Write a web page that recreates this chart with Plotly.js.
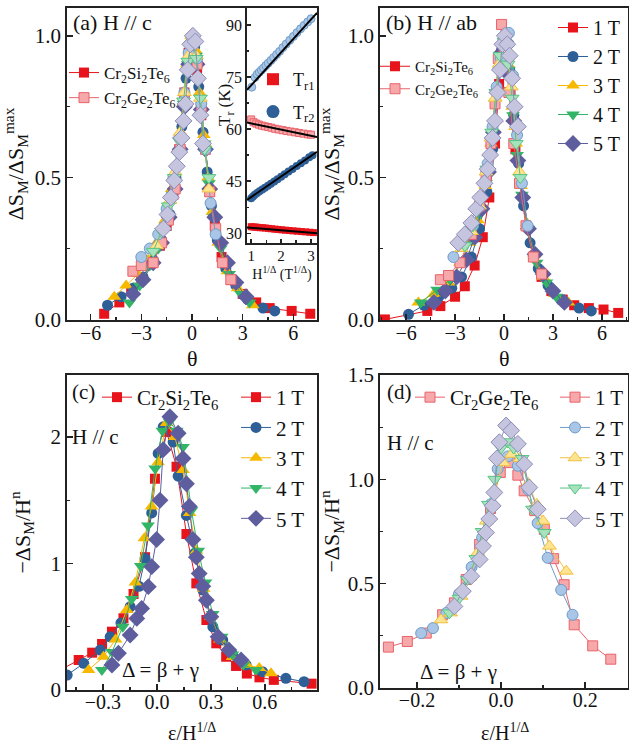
<!DOCTYPE html>
<html><head><meta charset="utf-8">
<script src="https://cdn.plot.ly/plotly-3.0.1.min.js"></script>
<style>html,body{margin:0;padding:0;background:#fff}#plot{width:629px;height:745px}</style>
</head><body><div id="plot"></div>
<script>
// ---------- data ----------
const fieldLabels = ['1 T','2 T','3 T','4 T','5 T'];

// Panel (a) H // c : theta vs dS/dSmax, Cr2Si2Te6
const aSiX = [
 [-5.2,-4.3,-3.6,-3.0,-2.4,-1.9,-1.5,-1.1,-0.75,-0.45,-0.2,0.05,0.3,0.55,0.8,1.05,1.35,1.75,2.3,3.0,3.8,4.6,5.9,7.0],
 [-5.0,-4.2,-3.5,-2.9,-2.3,-1.8,-1.3,-0.95,-0.6,-0.35,-0.1,0.15,0.4,0.65,0.9,1.15,1.5,2.0,2.6,3.3,4.2,4.9],
 [-4.6,-3.9,-3.2,-2.6,-2.1,-1.6,-1.2,-0.85,-0.55,-0.3,-0.05,0.2,0.45,0.7,0.95,1.2,1.55,2.1,2.7,3.6],
 [-3.7,-3.1,-2.5,-2.0,-1.55,-1.15,-0.8,-0.5,-0.25,0.0,0.25,0.5,0.75,1.0,1.3,1.7,2.2,2.9,3.4],
 [-3.5,-2.9,-2.3,-1.8,-1.35,-1.0,-0.7,-0.45,-0.2,0.05,0.3,0.55,0.8,1.05,1.35,1.7,2.1,2.6,3.2]];
const aSiY = [
 [0.02,0.06,0.1,0.14,0.2,0.26,0.33,0.44,0.6,0.8,0.94,0.97,0.88,0.72,0.6,0.45,0.33,0.22,0.14,0.09,0.06,0.04,0.03,0.02],
 [0.05,0.08,0.11,0.15,0.21,0.28,0.37,0.5,0.68,0.85,0.97,0.96,0.82,0.66,0.52,0.4,0.28,0.18,0.12,0.07,0.04,0.03],
 [0.08,0.12,0.16,0.21,0.27,0.35,0.46,0.6,0.76,0.9,1.0,0.95,0.8,0.65,0.5,0.38,0.27,0.17,0.11,0.05],
 [0.06,0.12,0.19,0.25,0.33,0.44,0.58,0.76,0.9,0.99,0.93,0.78,0.62,0.48,0.36,0.25,0.16,0.09,0.06],
 [0.09,0.14,0.2,0.27,0.36,0.46,0.6,0.75,0.9,0.98,0.9,0.74,0.6,0.46,0.36,0.27,0.2,0.13,0.08]];
// Panel (a) Cr2Ge2Te6
const aGeX = [
 [-3.5,-3.0,-2.3,-1.8,-1.4,-1.0,-0.7,-0.45,-0.2,0.05,0.3,0.55,0.8,1.05,1.4,1.8,2.3],
 [-3.0,-2.5,-2.0,-1.5,-1.1,-0.75,-0.45,-0.2,0.05,0.3,0.55,0.8,1.1,1.4],
 [-2.1,-1.7,-1.3,-1.0,-0.7,-0.45,-0.2,0.0,0.25,0.5,0.75,1.0],
 [-2.3,-1.8,-1.4,-1.05,-0.75,-0.5,-0.25,0.0,0.25,0.5,0.75,1.0],
 [-1.7,-1.45,-1.25,-1.05,-0.9,-0.75,-0.62,-0.5,-0.38,-0.25,-0.1,0.05,0.2,0.35,0.5,0.65]];
const aGeY = [
 [0.17,0.19,0.2,0.27,0.35,0.46,0.6,0.77,0.93,0.99,0.9,0.75,0.6,0.45,0.32,0.2,0.14],
 [0.22,0.25,0.3,0.39,0.5,0.64,0.8,0.94,1.0,0.92,0.76,0.6,0.41,0.3],
 [0.26,0.33,0.42,0.52,0.66,0.8,0.93,1.0,0.93,0.78,0.62,0.46],
 [0.24,0.31,0.4,0.5,0.63,0.77,0.91,0.99,0.92,0.78,0.6,0.5],
 [0.32,0.37,0.43,0.49,0.54,0.59,0.64,0.7,0.76,0.88,0.97,1.0,0.98,0.85,0.72,0.62]];

// Panel (b) H // ab
const bSiX = [
 [-7.3,-4.7,-3.9,-3.0,-2.4,-1.8,-1.3,-0.9,-0.55,-0.3,-0.1,0.15,0.4,0.7,1.0,1.35,1.8,2.3,2.9,3.6,4.3,5.2,6.1,7.0],
 [-5.85,-4.9,-4.0,-3.2,-2.6,-2.0,-1.5,-1.05,-0.7,-0.4,-0.15,0.1,0.35,0.6,0.9,1.2,1.6,2.1,2.7,3.5,4.6,5.35],
 [-5.25,-4.3,-3.4,-2.7,-2.1,-1.6,-1.15,-0.8,-0.5,-0.25,0.0,0.25,0.5,0.75,1.05,1.4,1.85,2.4,3.1,3.95],
 [-5.1,-4.1,-3.3,-2.6,-2.0,-1.5,-1.1,-0.75,-0.45,-0.2,0.05,0.3,0.55,0.8,1.1,1.5,2.0,2.6,3.2],
 [-4.3,-3.6,-2.9,-2.3,-1.8,-1.35,-0.95,-0.65,-0.4,-0.15,0.1,0.35,0.6,0.85,1.15,1.5,1.9,2.4,3.0,3.7]];
const bSiY = [
 [0.0,0.03,0.047,0.08,0.117,0.19,0.29,0.43,0.62,0.83,0.95,0.93,0.8,0.6,0.48,0.33,0.22,0.15,0.1,0.07,0.05,0.04,0.035,0.023],
 [0.018,0.05,0.08,0.11,0.15,0.22,0.32,0.45,0.6,0.8,0.95,0.99,0.88,0.72,0.55,0.4,0.27,0.18,0.12,0.07,0.04,0.03],
 [0.06,0.09,0.13,0.2,0.27,0.35,0.47,0.62,0.78,0.92,1.0,0.9,0.75,0.62,0.47,0.34,0.23,0.15,0.09,0.06],
 [0.06,0.105,0.14,0.2,0.28,0.37,0.48,0.63,0.8,0.93,0.99,0.88,0.72,0.58,0.44,0.32,0.2,0.13,0.08],
 [0.06,0.1,0.15,0.21,0.29,0.39,0.52,0.66,0.8,0.94,0.98,0.86,0.7,0.56,0.43,0.32,0.23,0.16,0.1,0.06]];
const bGeX = [
 [-3.9,-3.4,-2.7,-2.0,-1.5,-1.1,-0.8,-0.55,-0.35,-0.15,0.05,0.3,0.6,0.95,1.35,1.8,2.3],
 [-3.1,-2.5,-1.9,-1.4,-1.0,-0.7,-0.45,-0.2,0.05,0.3,0.55,0.8,1.1,1.45],
 [-2.6,-2.0,-1.5,-1.1,-0.8,-0.55,-0.3,-0.05,0.2,0.45,0.7,0.95],
 [-2.4,-1.9,-1.45,-1.05,-0.75,-0.5,-0.25,0.0,0.25,0.5,0.75,1.0],
 [-2.8,-2.4,-2.0,-1.7,-1.45,-1.2,-1.0,-0.85,-0.7,-0.55,-0.4,-0.25,-0.1,0.05,0.2,0.35,0.5,0.65,0.85]];
const bGeY = [
 [0.14,0.155,0.2,0.3,0.4,0.5,0.62,0.76,0.92,1.04,0.95,0.8,0.62,0.48,0.33,0.22,0.16],
 [0.22,0.26,0.33,0.43,0.55,0.68,0.82,0.92,1.0,1.01,0.86,0.65,0.48,0.33],
 [0.25,0.31,0.4,0.52,0.64,0.78,0.9,0.98,0.95,0.82,0.68,0.52],
 [0.26,0.33,0.42,0.53,0.66,0.8,0.93,0.98,0.9,0.78,0.62,0.5],
 [0.27,0.3,0.34,0.39,0.43,0.48,0.53,0.58,0.64,0.7,0.8,0.88,0.97,1.0,0.97,0.93,0.85,0.75,0.68]];

// Panel (c) Cr2Si2Te6, H // c : eps/H^(1/Delta) vs -dS/H^n
const cX = [
 [-0.56,-0.435,-0.36,-0.305,-0.25,-0.186,-0.13,-0.066,-0.011,0.054,0.109,0.164,0.219,0.275,0.33,0.385,0.44,0.5,0.57,0.65,0.86],
 [-0.499,-0.407,-0.315,-0.26,-0.2,-0.149,-0.1,-0.066,-0.029,0.007,0.035,0.09,0.118,0.164,0.21,0.256,0.311,0.366,0.422,0.496,0.587,0.717,0.818],
 [-0.38,-0.297,-0.23,-0.168,-0.12,-0.07,-0.03,0.007,0.054,0.1,0.145,0.182,0.22,0.26,0.3,0.35,0.42,0.5,0.569,0.634],
 [-0.306,-0.25,-0.19,-0.14,-0.09,-0.05,-0.01,0.03,0.07,0.11,0.145,0.192,0.23,0.27,0.31,0.36,0.42,0.48,0.551],
 [-0.25,-0.214,-0.149,-0.112,-0.085,-0.048,-0.029,-0.002,0.017,0.035,0.072,0.118,0.145,0.164,0.18,0.2,0.219,0.235,0.255,0.275,0.3,0.34,0.4,0.468]];
const cY = [
 [0.14,0.237,0.295,0.364,0.461,0.567,0.759,1.05,1.67,2.04,1.765,1.233,0.843,0.553,0.369,0.263,0.19,0.13,0.1,0.08,0.05],
 [0.118,0.211,0.316,0.42,0.53,0.658,0.82,1.04,1.40,1.87,2.08,1.96,1.69,1.38,1.08,0.79,0.5,0.395,0.277,0.198,0.145,0.092,0.066],
 [0.158,0.263,0.4,0.632,0.85,1.2,1.45,1.8,2.11,2.0,1.74,1.40,1.1,0.8,0.58,0.4,0.26,0.2,0.174,0.132],
 [0.158,0.3,0.5,0.72,0.98,1.3,1.75,2.05,2.12,2.05,1.92,1.42,1.1,0.85,0.6,0.42,0.28,0.2,0.158],
 [0.198,0.29,0.435,0.566,0.645,0.817,0.975,1.19,1.5,1.9,2.16,2.03,1.83,1.63,1.45,1.19,1.05,0.92,0.82,0.71,0.58,0.42,0.316,0.237]];

// Panel (d) Cr2Ge2Te6, H // c
const dX = [
 [-0.268,-0.223,-0.178,-0.139,-0.111,-0.083,-0.051,-0.025,-0.002,0.02,0.04,0.055,0.08,0.103,0.125,0.15,0.174,0.218,0.261],
 [-0.19,-0.162,-0.13,-0.1,-0.07,-0.045,-0.025,-0.008,0.016,0.04,0.065,0.087,0.111,0.143,0.17],
 [-0.143,-0.12,-0.095,-0.075,-0.055,-0.035,-0.015,0.005,0.025,0.045,0.065,0.085,0.1,0.115,0.155],
 [-0.123,-0.1,-0.08,-0.06,-0.045,-0.03,-0.015,0.0,0.015,0.03,0.05,0.075,0.103],
 [-0.111,-0.091,-0.071,-0.051,-0.043,-0.036,-0.028,-0.02,-0.016,-0.01,-0.004,0.012,0.024,0.04,0.055,0.067,0.087]];
const dY = [
 [0.196,0.223,0.263,0.351,0.408,0.52,0.688,0.86,1.033,1.08,1.02,0.945,0.85,0.76,0.62,0.495,0.303,0.202,0.138],
 [0.263,0.287,0.36,0.45,0.58,0.72,0.88,1.05,1.11,1.065,0.95,0.79,0.624,0.47,0.351],
 [0.327,0.36,0.44,0.53,0.65,0.8,0.95,1.08,1.12,1.1,0.98,0.88,0.8,0.68,0.56],
 [0.36,0.43,0.52,0.62,0.75,0.88,1.0,1.15,1.18,1.15,1.1,0.857,0.745],
 [0.391,0.464,0.536,0.616,0.68,0.745,0.81,0.873,0.937,1.1,1.178,1.258,1.234,1.17,1.073,0.961,0.857]];

// Inset: T_r (K) vs H^(1/Delta)
const insGeTr2X = [1.02,1.13,1.2,1.27,1.34,1.41,1.49,1.57,1.66,1.75,1.85,1.95,2.06,2.17,2.29,2.41,2.53,2.65,2.77,2.89,3.0];
const insGeTr2Y = [72.1,74.9,75.8,76.4,77.0,77.6,78.3,79.0,79.8,80.6,81.5,82.4,83.5,84.5,85.6,86.7,87.8,88.9,89.9,90.9,91.8];
const insGeTr1X = [1.0,1.08,1.17,1.26,1.36,1.46,1.57,1.68,1.8,1.92,2.05,2.18,2.32,2.46,2.6,2.75,2.9,3.0];
const insGeTr1Y = [62.8,62.0,61.6,61.3,61.0,60.8,60.6,60.4,60.1,59.9,59.7,59.5,59.3,59.1,58.9,58.7,58.5,58.4];
const insSiTr2X = [1.0,1.06,1.12,1.2,1.28,1.37,1.46,1.56,1.66,1.77,1.88,2.0,2.12,2.25,2.38,2.52,2.66,2.8,2.94,3.05];
const insSiTr2Y = [40.1,40.6,41.1,41.6,42.1,42.6,43.1,43.7,44.3,44.9,45.6,46.3,47.0,47.8,48.5,49.4,50.2,51.0,51.9,52.5];
const insSiTr1X = [1.0,1.07,1.14,1.22,1.3,1.39,1.48,1.58,1.68,1.79,1.9,2.02,2.14,2.27,2.4,2.54,2.68,2.82,2.96,3.08];
const insSiTr1Y = [31.9,31.8,31.8,31.7,31.6,31.6,31.5,31.4,31.3,31.2,31.1,31.0,30.9,30.8,30.7,30.6,30.5,30.4,30.3,30.2];
const fitX = [0.86, 3.2];
const fitGeTr2 = [71.3, 93.5];
const fitGeTr1 = [61.9, 57.7];
const fitSiTr2 = [39.6, 53.5];
const fitSiTr1 = [31.7, 30.0];

// ---------- style ----------
const FONT = '"Liberation Serif", "Times New Roman", serif';
const siColor = ['#e8141c','#2f5f97','#f7b800','#33b567','#5e5e9e'];
const geFill  = ['#f7a8aa','#a9c6e6','#ffe48f','#a6e3bd','#c5c5df'];
const geEdge  = ['#e8636a','#6f9bc9','#f0c040','#55c585','#8d8db8'];
const symbols = ['square','circle','triangle-up','triangle-down','diamond'];
const sizes   = [10,11,12,12,13];
const W = 629, H = 745;
const px = v => v / W, py = v => 1 - v / H;

function siTrace(i, x, y, xa, ya, opts) {
  return Object.assign({x, y, xaxis: xa, yaxis: ya, mode: 'lines+markers', name: fieldLabels[i],
    line: {color: siColor[i], width: 1},
    marker: {symbol: symbols[i], size: sizes[i], color: siColor[i], line: {width: 0}},
    showlegend: false}, opts || {});
}
function geTrace(i, x, y, xa, ya, opts) {
  return Object.assign({x, y, xaxis: xa, yaxis: ya, mode: 'lines+markers', name: fieldLabels[i],
    line: {color: geEdge[i], width: 1},
    marker: {symbol: symbols[i], size: sizes[i], color: geFill[i], line: {width: 1, color: geEdge[i]}},
    showlegend: false}, opts || {});
}

const traces = [];
// (a)
for (let i = 0; i < 5; i++) traces.push(siTrace(i, aSiX[i], aSiY[i], 'x', 'y'));
for (let i = 0; i < 5; i++) traces.push(geTrace(i, aGeX[i], aGeY[i], 'x', 'y'));
// (a) legend dummies
const siName = 'Cr<sub>2</sub>Si<sub>2</sub>Te<sub>6</sub>';
const geName = 'Cr<sub>2</sub>Ge<sub>2</sub>Te<sub>6</sub>';
traces.push(siTrace(0, [null], [null], 'x', 'y', {name: siName, showlegend: true, legend: 'legend'}));
traces.push(geTrace(0, [null], [null], 'x', 'y', {name: geName, showlegend: true, legend: 'legend'}));
// (b)
for (let i = 0; i < 5; i++) traces.push(siTrace(i, bSiX[i], bSiY[i], 'x2', 'y2', {showlegend: true, legend: 'legend3'}));
for (let i = 0; i < 5; i++) traces.push(geTrace(i, bGeX[i], bGeY[i], 'x2', 'y2'));
traces.push(siTrace(0, [null], [null], 'x2', 'y2', {name: siName, showlegend: true, legend: 'legend4'}));
traces.push(geTrace(0, [null], [null], 'x2', 'y2', {name: geName, showlegend: true, legend: 'legend4'}));
// (c)
traces.push(siTrace(0, [null], [null], 'x3', 'y3', {name: siName, showlegend: true, legend: 'legend5'}));
for (let i = 0; i < 5; i++) traces.push(siTrace(i, cX[i], cY[i], 'x3', 'y3', {showlegend: true, legend: 'legend6'}));
// (d)
traces.push(geTrace(0, [null], [null], 'x4', 'y4', {name: geName, showlegend: true, legend: 'legend7'}));
for (let i = 0; i < 5; i++) traces.push(geTrace(i, dX[i], dY[i], 'x4', 'y4', {showlegend: true, legend: 'legend8'}));
// inset
const insM = 8;
traces.push({x: insGeTr2X, y: insGeTr2Y, xaxis: 'x5', yaxis: 'y5', mode: 'markers', showlegend: false,
  marker: {symbol: 'circle', size: insM, color: geFill[1], line: {width: 1, color: geEdge[1]}}});
traces.push({x: insGeTr1X, y: insGeTr1Y, xaxis: 'x5', yaxis: 'y5', mode: 'markers', showlegend: false,
  marker: {symbol: 'square', size: insM - 1, color: geFill[0], line: {width: 1, color: geEdge[0]}}});
traces.push({x: insSiTr2X, y: insSiTr2Y, xaxis: 'x5', yaxis: 'y5', mode: 'markers', showlegend: false,
  marker: {symbol: 'circle', size: insM, color: siColor[1]}});
traces.push({x: insSiTr1X, y: insSiTr1Y, xaxis: 'x5', yaxis: 'y5', mode: 'markers', showlegend: false,
  marker: {symbol: 'square', size: insM - 1, color: siColor[0]}});
[fitGeTr2, fitGeTr1, fitSiTr2, fitSiTr1].forEach(f => traces.push({x: fitX, y: f, xaxis: 'x5', yaxis: 'y5',
  mode: 'lines', showlegend: false, line: {color: '#000', width: 2}}));
traces.push({x: [null], y: [null], xaxis: 'x5', yaxis: 'y5', mode: 'markers', name: 'T<sub>r1</sub>', showlegend: true,
  legend: 'legend2', legendgroup: 'g1', marker: {symbol: 'square', size: 12, color: siColor[0]}});
traces.push({x: [null], y: [null], xaxis: 'x5', yaxis: 'y5', mode: 'markers', name: 'T<sub>r2</sub>', showlegend: true,
  legend: 'legend2', legendgroup: 'g2', marker: {symbol: 'circle', size: 13, color: siColor[1]}});

// ---------- axes ----------
function ax(domain, range, dtick, opts) {
  return Object.assign({domain, range, dtick, autorange: false, showgrid: false, zeroline: false,
    showline: true, mirror: true, linecolor: '#222', linewidth: 1.8,
    ticks: 'inside', ticklen: 6, tickwidth: 1.5, tickcolor: '#222',
    tickfont: {family: FONT, size: 21, color: '#111'},
    minor: {ticks: 'inside', ticklen: 3, tickwidth: 1.2, tickcolor: '#222', dtick: dtick / 2}}, opts || {});
}
const tFont = {family: FONT, size: 22, color: '#111'};
const xtFont = {family: FONT, size: 20, color: '#111'};
const xA = [px(67), px(317)], xB = [px(380), px(628)];
const yTop = [py(320), py(8)];
const lg = (x, y, size, extra) => Object.assign({x: px(x), y: py(y), xanchor: 'left', yanchor: 'top',
  bgcolor: 'rgba(0,0,0,0)', font: {family: FONT, size: size, color: '#111'}, itemwidth: 30}, extra || {});
const ann = (text, x, y, size, extra) => Object.assign({text, x: px(x), y: py(y), xref: 'paper', yref: 'paper',
  xanchor: 'left', yanchor: 'middle', showarrow: false, font: {family: FONT, size: size, color: '#111'}}, extra || {});
const layout = {
  width: W, height: H, margin: {l: 0, r: 0, t: 0, b: 0},
  paper_bgcolor: '#fff', plot_bgcolor: 'rgba(0,0,0,0)',
  xaxis: ax(xA, [-7.4, 7.4], 3, {anchor: 'y', ticklabelstandoff: -6, tickfont: xtFont}),
  yaxis: ax(yTop, [-0.002, 1.098], 0.5, {anchor: 'x', tickformat: '.1f', title: {text: 'ΔS<sub>M</sub>/ΔS<sub>M</sub><sup>max</sup>', font: tFont, standoff: 6}}),
  xaxis2: ax(xB, [-7.6, 7.6], 3, {anchor: 'y2', ticklabelstandoff: -6, tickfont: xtFont}),
  yaxis2: ax(yTop, [-0.002, 1.098], 0.5, {anchor: 'x2', tickformat: '.1f', title: {text: 'ΔS<sub>M</sub>/ΔS<sub>M</sub><sup>max</sup>', font: tFont, standoff: 2}}),
  xaxis3: ax(xA, [-0.5, 0.89], 0.3, {anchor: 'y3', tickformat: '.1f', ticklabelstandoff: -7, tickfont: xtFont}),
  yaxis3: ax([py(690), py(375)], [0, 2.49], 1, {anchor: 'x3', title: {text: '−ΔS<sub>M</sub>/H<sup>n</sup>', font: tFont, standoff: 14}}),
  xaxis4: ax(xB, [-0.288, 0.302], 0.2, {anchor: 'y4', tickformat: '.1f', ticklabelstandoff: -7, tickfont: xtFont}),
  yaxis4: ax([py(688), py(375)], [0, 1.5], 0.5, {anchor: 'x4', tickformat: '.1f', title: {text: '−ΔS<sub>M</sub>/H<sup>n</sup>', font: tFont, standoff: 2}}),
  xaxis5: ax([px(247), px(317)], [0.86, 3.2], 1, {anchor: 'y5', tickfont: {family: FONT, size: 15, color: '#111'}, ticklen: 4,
    ticklabelstandoff: -2,
    title: {text: 'H<sup>1/Δ</sup> (T<sup>1/Δ</sup>)', font: {family: FONT, size: 14, color: '#111'}, standoff: 0}}),
  yaxis5: ax([py(243), py(8)], [27.2, 94.9], 15, {anchor: 'x5', tick0: 30, tickfont: {family: FONT, size: 16, color: '#111'}, ticklen: 4,
    minor: {ticks: 'inside', ticklen: 2, dtick: 7.5, tick0: 30, tickcolor: '#222'}}),
  legend:  lg(64, 55, 17),
  legend2: lg(253, 61, 18, {traceorder: 'grouped', tracegroupgap: 6}),
  legend3: lg(553, 8, 20),
  legend4: lg(375, 50, 15),
  legend5: lg(97, 377, 21),
  legend6: lg(236, 377, 21),
  legend7: lg(410, 377, 21),
  legend8: lg(555, 377, 21),
  annotations: [
    ann('(a) H // c', 71, 22, 22),
    ann('(b) H // ab', 384, 22, 22),
    ann('(c)', 70, 392, 21),
    ann('(d)', 385, 392, 21),
    ann('H // c', 70, 437, 21),
    ann('H // c', 385, 443, 21),
    ann('Δ = β + γ', 120, 670, 21),
    ann('Δ = β + γ', 418, 672, 21),
    ann('θ', 192, 358, 22, {xanchor: 'center', borderpad: 0}),
    ann('θ', 504, 358, 22, {xanchor: 'center', borderpad: 0}),
    ann('ε/H<sup>1/Δ</sup>', 192, 745, 20, {xanchor: 'center', yanchor: 'bottom', borderpad: 0}),
    ann('ε/H<sup>1/Δ</sup>', 505, 745, 20, {xanchor: 'center', yanchor: 'bottom', borderpad: 0}),
    ann('T<sub>r</sub> (K)', 226, 105, 17, {xanchor: 'center', textangle: -90})
  ]
};
Plotly.newPlot('plot', traces, layout, {staticPlot: true});
</script></body></html>
